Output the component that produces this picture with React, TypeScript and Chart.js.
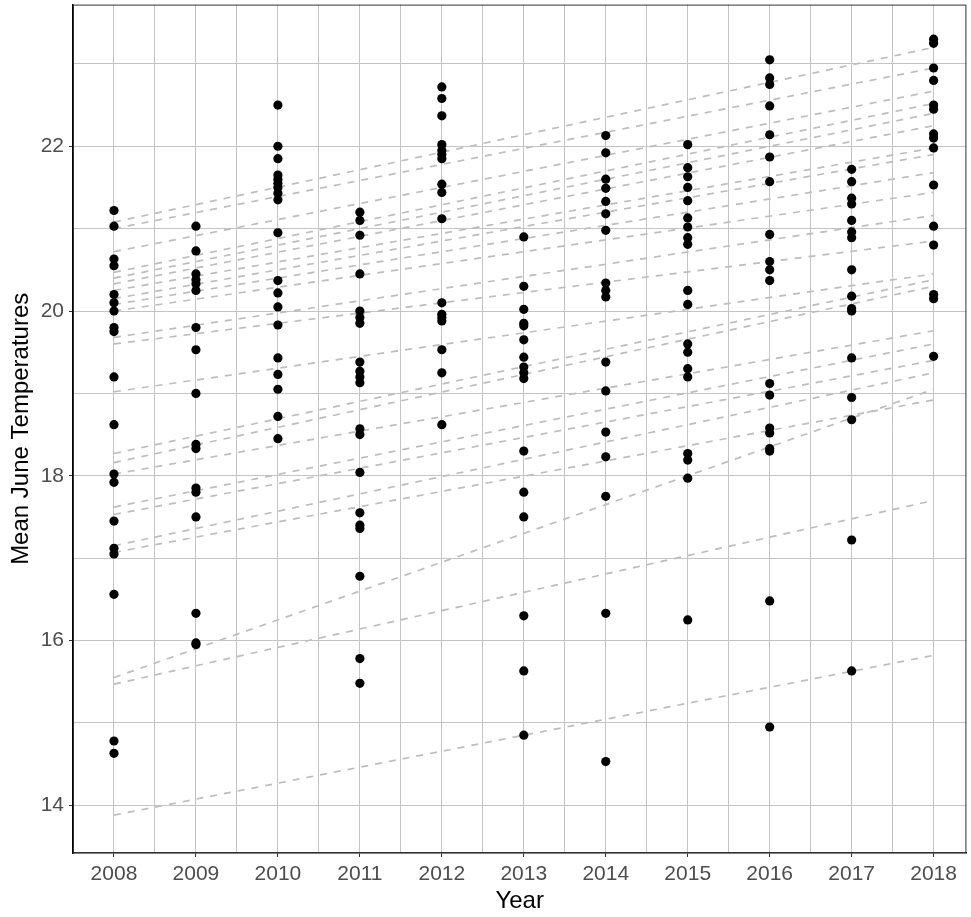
import React, { useEffect, useRef } from "react";
import { Chart, registerables } from "chart.js";

Chart.register(...registerables);

const years = [2008, 2009, 2010, 2011, 2012, 2013, 2014, 2015, 2016, 2017, 2018];

const temps2008 = [21.22, 21.03, 20.63, 20.55, 20.2, 20.1, 20.0, 19.8, 19.75, 19.2, 18.62, 18.02, 17.92, 17.45, 17.12, 17.05, 16.56, 14.78, 14.63];
const temps2009 = [21.03, 20.73, 20.45, 20.38, 20.33, 20.25, 19.8, 19.53, 19.0, 18.38, 18.33, 17.85, 17.8, 17.5, 16.33, 15.97, 15.95];
const temps2010 = [22.5, 22.0, 21.85, 21.65, 21.6, 21.55, 21.5, 21.43, 21.35, 20.95, 20.37, 20.22, 20.05, 19.83, 19.43, 19.23, 19.05, 18.72, 18.45];
const temps2011 = [21.2, 21.1, 20.92, 20.45, 20.0, 19.92, 19.85, 19.38, 19.27, 19.2, 19.13, 18.57, 18.5, 18.04, 17.55, 17.4, 17.36, 16.78, 15.78, 15.48];
const temps2012 = [22.72, 22.58, 22.37, 22.02, 21.95, 21.9, 21.85, 21.54, 21.44, 21.12, 20.1, 19.96, 19.92, 19.88, 19.53, 19.25, 18.62];
const temps2013 = [20.9, 20.3, 20.02, 19.85, 19.82, 19.65, 19.44, 19.32, 19.25, 19.18, 18.3, 17.8, 17.5, 16.3, 15.63, 14.85];
const temps2014 = [22.13, 21.92, 21.6, 21.49, 21.33, 21.18, 20.98, 20.34, 20.25, 20.17, 19.38, 19.03, 18.53, 18.23, 17.75, 16.33, 14.53];
const temps2015 = [22.02, 21.74, 21.63, 21.5, 21.34, 21.13, 21.02, 20.89, 20.81, 20.25, 20.08, 19.6, 19.5, 19.3, 19.2, 18.27, 18.19, 17.97, 16.25];
const temps2016 = [23.05, 22.83, 22.75, 22.49, 22.14, 21.87, 21.57, 20.93, 20.6, 20.5, 20.37, 19.12, 18.98, 18.58, 18.52, 18.33, 18.3, 16.48, 14.95];
const temps2017 = [21.72, 21.57, 21.37, 21.3, 21.1, 20.96, 20.89, 20.5, 20.18, 20.03, 20.0, 19.43, 18.95, 18.68, 17.22, 15.63];
const temps2018 = [23.3, 23.25, 22.95, 22.8, 22.5, 22.45, 22.15, 22.1, 21.98, 21.53, 21.03, 20.8, 20.2, 20.15, 19.45];

const tempsByYear = [temps2008, temps2009, temps2010, temps2011, temps2012, temps2013, temps2014, temps2015, temps2016, temps2017, temps2018];

// fitted lines per site: values at lineYears
const lineYears = [2008, 2018];
const siteLines = [
  [21.08, 23.2],
  [21.0, 22.95],
  [20.72, 22.67],
  [20.47, 22.52],
  [20.4, 22.4],
  [20.33, 22.25],
  [20.25, 21.98],
  [20.15, 21.9],
  [20.08, 21.68],
  [20.0, 21.44],
  [19.68, 21.16],
  [19.6, 20.85],
  [19.02, 20.45],
  [18.27, 20.38],
  [18.16, 20.3],
  [18.02, 19.76],
  [17.62, 19.6],
  [17.53, 19.4],
  [17.15, 19.25],
  [17.07, 18.92],
  [15.55, 19.05],
  [15.47, 17.7],
  [13.88, 15.82],
];

const xTickLabels = years.map(String);
const yTickLabels = ["14", "16", "18", "20", "22"];

const FONT = "'Liberation Sans', Arial, sans-serif";

export default function App() {
  const ref = useRef<HTMLCanvasElement | null>(null);
  useEffect(() => {
    document.body.style.margin = "0";
    const canvas = ref.current;
    if (!canvas) return;
    const lineSets = siteLines.map((vals) => ({
      type: "line" as const,
      data: vals.map((v, i) => ({ x: lineYears[i], y: v })),
      borderColor: "#bdbdbd",
      borderWidth: 1.7,
      borderDash: [7, 7],
      pointRadius: 0,
      fill: false,
      tension: 0,
      order: 2,
    }));
    const pts: { x: number; y: number }[] = [];
    tempsByYear.forEach((arr, i) => arr.forEach((v) => pts.push({ x: years[i], y: v })));
    const chart = new Chart(canvas, {
      type: "scatter",
      data: {
        datasets: [
          ...lineSets,
          {
            type: "scatter" as const,
            data: pts,
            backgroundColor: "#000000",
            borderColor: "#000000",
            pointRadius: 4.6,
            borderWidth: 0,
            order: 1,
          },
        ] as any,
      },
      options: {
        animation: false,
        responsive: false,
        maintainAspectRatio: false,
        layout: { padding: { top: 4, right: 1, bottom: 0, left: 0 } },
        plugins: { legend: { display: false }, tooltip: { enabled: false } },
        scales: {
          x: {
            type: "linear",
            min: 2007.5,
            max: 2018.4,
            afterFit: (s: any) => {
              s.height = 64;
              s.paddingLeft = 0;
              s.paddingRight = 0;
            },
            ticks: {
              stepSize: 0.5,
              autoSkip: false,
              maxRotation: 0,
              includeBounds: false,
              color: "#4d4d4d",
              font: { family: FONT, size: 21 },
              padding: 5,
              callback: (v: any) => {
                const n = Number(v);
                return Number.isInteger(n) ? xTickLabels[n - 2008] ?? "" : "";
              },
            },
            grid: {
              color: "#c4c4c4",
              lineWidth: 1,
              tickLength: 4,
              tickColor: (c: any) => (Number.isInteger(c.tick?.value) ? "#333333" : "rgba(0,0,0,0)"),
              drawTicks: true,
            },
            border: { display: true, color: "#000000", width: 1.5 },
            title: {
              display: true,
              text: "Year",
              color: "#000000",
              font: { family: FONT, size: 24 },
              padding: { top: 0, bottom: 1 },
            },
          },
          y: {
            type: "linear",
            min: 13.42,
            max: 23.72,
            afterFit: (s: any) => {
              s.width = 73;
              s.paddingTop = 0;
              s.paddingBottom = 0;
            },
            ticks: {
              stepSize: 1,
              autoSkip: false,
              includeBounds: false,
              color: "#4d4d4d",
              font: { family: FONT, size: 21 },
              padding: 5,
              callback: (v: any) => {
                const s = String(Math.round(Number(v)));
                return yTickLabels.includes(s) && Math.abs(Number(v) - Math.round(Number(v))) < 1e-6 ? s : "";
              },
            },
            grid: {
              color: "#c4c4c4",
              lineWidth: 1,
              tickLength: 4,
              tickColor: (c: any) => {
                const v = c.tick?.value;
                return Number.isInteger(v) && v % 2 === 0 ? "#333333" : "rgba(0,0,0,0)";
              },
              drawTicks: true,
            },
            border: { display: true, color: "#000000", width: 1.5 },
            title: {
              display: true,
              text: "Mean June Temperatures",
              color: "#000000",
              font: { family: FONT, size: 24 },
              padding: { top: 7, bottom: 0 },
            },
          },
        },
      },
      plugins: [
        {
          id: "panelBorder",
          afterDraw: (c: any) => {
            const { ctx, chartArea } = c;
            ctx.save();
            ctx.strokeStyle = "#333333";
            ctx.lineWidth = 1;
            ctx.strokeRect(chartArea.left + 0.5, chartArea.top + 0.5, chartArea.right - chartArea.left - 1, chartArea.bottom - chartArea.top - 1);
            ctx.restore();
          },
        },
      ],
    });
    return () => chart.destroy();
  }, []);
  return (
    <div style={{ width: 971, height: 917, overflow: "hidden", background: "#fff" }}>
      <canvas ref={ref} width={971} height={917} style={{ width: 971, height: 917, display: "block" }} />
    </div>
  );
}
